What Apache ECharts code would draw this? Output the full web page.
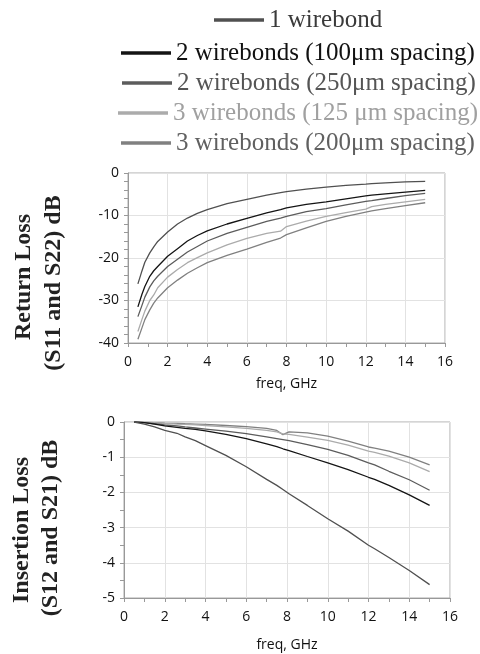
<!DOCTYPE html>
<html lang="en">
<head>
    <meta charset="UTF-8">
    <title>Wirebond return / insertion loss</title>
    <script src="https://cdn.jsdelivr.net/npm/echarts@6/dist/echarts.min.js"></script>
    <style>
        html, body { margin: 0; padding: 0; background: #fff; }
        #chart { width: 480px; height: 654px; }
    </style>
</head>
<body>
<div id="chart"></div>
<script>
    // series names (legend order)
    var names = [
        '1 wirebond',
        '2 wirebonds (100\u03bcm spacing)',
        '2 wirebonds (250\u03bcm spacing)',
        '3 wirebonds (125 \u03bcm spacing)',
        '3 wirebonds (200\u03bcm spacing)'
    ];
    var lineColors = ['#505050', '#141414', '#5c5c5c', '#ababab', '#808080'];
    var textColors = ['#3a3a3a', '#111111', '#555555', '#a0a0a0', '#606060'];

    // return loss, GHz / dB
    var rlFreq = [0.5, 0.7, 0.85, 1.1, 1.3, 1.5, 2, 2.5, 3, 3.5, 4, 5, 6, 7, 7.7, 8, 9, 10, 11, 12, 12.3, 13, 14, 15];
    var rl1 = [-26.1, -23.1, -21.0, -18.8, -17.4, -16.1, -13.9, -12.0, -10.6, -9.5, -8.6, -7.2, -6.2, -5.2, -4.6, -4.4, -3.8, -3.3, -2.9, -2.6, -2.5, -2.3, -2.1, -1.95];
    var rl2 = [-31.5, -28.6, -26.7, -24.3, -23.0, -22.0, -19.6, -17.8, -16.0, -14.7, -13.6, -12.0, -10.7, -9.4, -8.6, -8.2, -7.4, -6.8, -6.1, -5.4, -5.2, -4.9, -4.5, -4.1];
    var rl3 = [-33.8, -31.2, -29.2, -26.8, -25.4, -24.3, -22.0, -20.3, -18.6, -17.3, -16.0, -14.2, -12.8, -11.4, -10.6, -10.2, -9.1, -8.4, -7.5, -6.7, -6.5, -6.0, -5.3, -4.8];
    var rl4 = [-37.3, -34.5, -32.5, -30.0, -28.7, -27.0, -24.5, -22.7, -21.1, -19.9, -18.8, -16.9, -15.4, -14.2, -13.7, -12.6, -11.3, -10.2, -9.3, -8.5, -7.9, -7.4, -6.8, -6.2];
    var rl5 = [-39.1, -36.5, -34.5, -32.2, -30.6, -29.4, -27.0, -25.2, -23.6, -22.3, -21.1, -19.4, -17.9, -16.3, -15.3, -14.5, -12.9, -11.4, -10.2, -9.2, -8.9, -8.4, -7.7, -7.0];

    // insertion loss, GHz / dB
    var ilFreq = [0.5, 1, 1.5, 2, 2.6, 3, 3.5, 4, 5, 6, 7, 7.5, 7.8, 8.1, 9, 10, 11, 12, 12.3, 13, 14, 15];
    var il1 = [0, -0.06, -0.14, -0.24, -0.32, -0.42, -0.53, -0.67, -0.95, -1.27, -1.63, -1.8, -1.92, -2.04, -2.37, -2.75, -3.1, -3.5, -3.6, -3.85, -4.22, -4.62];
    var il2 = [0, -0.02, -0.06, -0.11, -0.15, -0.18, -0.21, -0.25, -0.35, -0.47, -0.62, -0.7, -0.76, -0.81, -0.98, -1.16, -1.35, -1.57, -1.63, -1.8, -2.07, -2.37];
    var il3 = [0, -0.02, -0.05, -0.08, -0.11, -0.14, -0.17, -0.2, -0.26, -0.33, -0.42, -0.47, -0.5, -0.53, -0.64, -0.78, -0.95, -1.16, -1.22, -1.4, -1.64, -1.94];
    var il4 = [0, -0.01, -0.02, -0.04, -0.06, -0.07, -0.08, -0.1, -0.14, -0.18, -0.24, -0.28, -0.34, -0.35, -0.43, -0.52, -0.66, -0.83, -0.86, -0.97, -1.16, -1.41];
    var il5 = [0, -0.01, -0.02, -0.03, -0.04, -0.05, -0.06, -0.07, -0.1, -0.13, -0.18, -0.24, -0.36, -0.28, -0.31, -0.40, -0.54, -0.71, -0.74, -0.83, -1.0, -1.22];

    var rlData = [rl1, rl2, rl3, rl4, rl5];
    var ilData = [il1, il2, il3, il4, il5];

    function pairs(xs, ys) {
        return xs.map(function (x, i) { return [x, ys[i]]; });
    }

    var tickFont = { fontFamily: 'Open Sans', fontSize: 14, color: '#111' };

    function xAxisFor(gi, gap) {
        return {
            gridIndex: gi, type: 'value', min: 0, max: 16, interval: 2,
            name: 'freq, GHz', nameLocation: 'middle', nameGap: gap,
            nameTextStyle: tickFont,
            axisLine: { onZero: false, lineStyle: { color: '#999' } },
            axisTick: { length: 4, lineStyle: { color: '#999' } },
            minorTick: { show: true, splitNumber: 2, length: 4, lineStyle: { color: '#999' } },
            splitLine: { lineStyle: { color: '#e2e2e2' } },
            axisLabel: Object.assign({ margin: 12 }, tickFont)
        };
    }
    function yAxisFor(gi, min, step, minor) {
        return {
            gridIndex: gi, type: 'value', min: min, max: 0, interval: step,
            axisLine: { show: true, onZero: false, lineStyle: { color: '#999' } },
            axisTick: { show: true, length: 4, lineStyle: { color: '#999' } },
            minorTick: { show: true, splitNumber: minor, length: 4, lineStyle: { color: '#999' } },
            splitLine: { lineStyle: { color: '#e2e2e2' } },
            axisLabel: Object.assign({ margin: 9 }, tickFont)
        };
    }

    var series = [];
    names.forEach(function (n, i) {
        series.push({
            name: n, type: 'line', xAxisIndex: 0, yAxisIndex: 0,
            data: pairs(rlFreq, rlData[i]), showSymbol: false, symbol: 'none',
            itemStyle: { color: lineColors[i] },
            lineStyle: { color: lineColors[i], width: 1.3 },
            z: 10 - i
        });
        series.push({
            name: n, type: 'line', xAxisIndex: 1, yAxisIndex: 1,
            data: pairs(ilFreq, ilData[i]), showSymbol: false, symbol: 'none',
            itemStyle: { color: lineColors[i] },
            lineStyle: { color: lineColors[i], width: 1.3 },
            z: 10 - i
        });
    });

    // one legend per row, rows are centred individually
    var legLeft = [214, 121, 122, 118, 121];
    var legTop = [6, 39, 69, 99, 129];
    var legends = names.map(function (n, i) {
        return {
            data: [{ name: n, textStyle: { color: textColors[i] } }],
            left: legLeft[i], top: legTop[i], padding: 0,
            icon: 'rect', itemWidth: 50, itemHeight: 3.5,
            selectedMode: false,
            textStyle: { fontFamily: 'Liberation Serif', fontSize: 25, lineHeight: 28 }
        };
    });

    var titleStyle = { fontFamily: 'Liberation Serif', fontWeight: 'bold', fontSize: 24, fill: '#222', textAlign: 'center', textVerticalAlign: 'middle' };
    function vText(txt, x, y) {
        return { type: 'text', x: x, y: y, rotation: Math.PI / 2, style: Object.assign({ text: txt }, titleStyle) };
    }

    var option = {
        animation: false,
        legend: legends,
        grid: [
            { left: 128, top: 173, width: 317, height: 170, show: true, borderColor: '#aaa', borderWidth: 1 },
            { left: 124, top: 422, width: 326, height: 176, show: true, borderColor: '#aaa', borderWidth: 1 }
        ],
        xAxis: [xAxisFor(0, 34), xAxisFor(1, 40)],
        yAxis: [yAxisFor(0, -40, 10, 5), yAxisFor(1, -5, 1, 2)],
        graphic: [
            vText('Return Loss', 24, 277),
            vText('(S11 and S22) dB', 54, 283),
            vText('Insertion Loss', 22, 530),
            vText('(S12 and S21) dB', 51, 528)
        ],
        series: series
    };

    var myChart = echarts.init(document.getElementById('chart'));
    myChart.setOption(option);
</script>
</body>
</html>
